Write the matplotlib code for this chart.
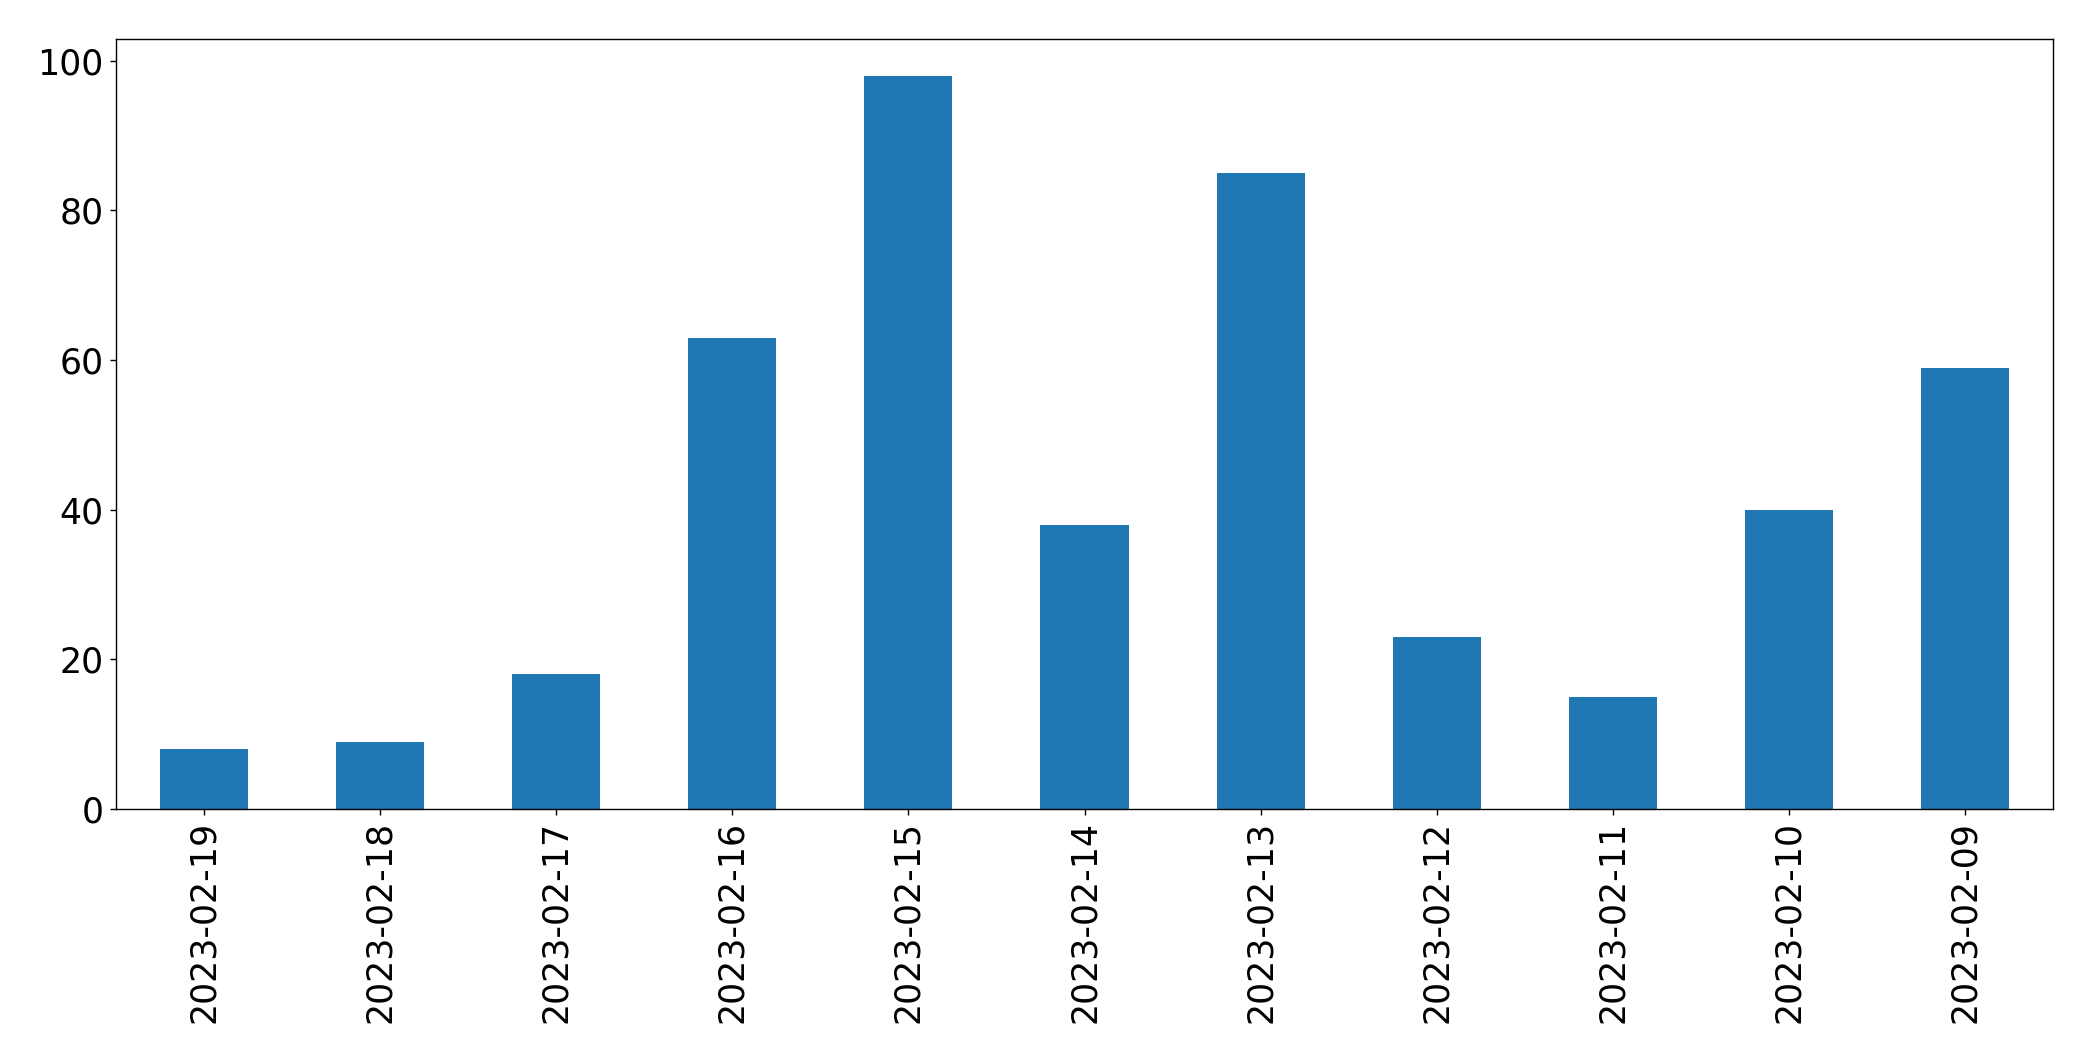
import matplotlib
matplotlib.use('Agg')
import matplotlib.pyplot as plt
import numpy as np

dates = ['2023-02-19', '2023-02-18', '2023-02-17', '2023-02-16', '2023-02-15',
         '2023-02-14', '2023-02-13', '2023-02-12', '2023-02-11', '2023-02-10',
         '2023-02-09']
counts = [8, 9, 18, 63, 98, 38, 85, 23, 15, 40, 59]

fig = plt.figure(figsize=(20.93, 10.61), dpi=100)
ax = fig.add_axes([116 / 2093, 1 - 809 / 1061, (2053 - 116) / 2093, (809 - 39) / 1061])

x = np.arange(len(dates))
ax.bar(x, counts, width=0.5, color='#1f77b4')
ax.set_xlim(-0.5, len(dates) - 0.5)
ax.set_ylim(0, max(counts) * 1.05)
ax.set_xticks(x)
ax.set_xticklabels(dates, rotation=90)
ax.tick_params(axis='both', labelsize=25, length=4.4, width=1.0, pad=4.4)
for sp in ax.spines.values():
    sp.set_linewidth(1.0)

fig.savefig('out.png', dpi=100)
